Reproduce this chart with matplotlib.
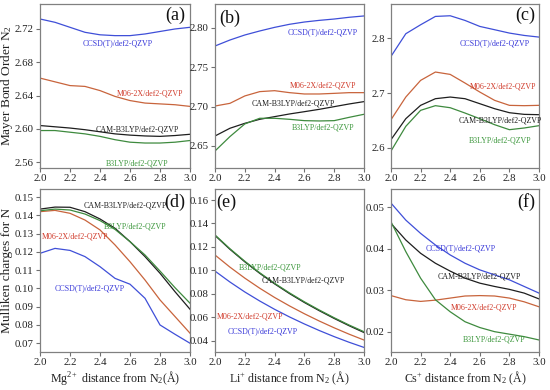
import matplotlib
matplotlib.use("Agg")
import matplotlib.pyplot as plt
import numpy as np

plt.rcParams['font.family'] = ['Liberation Serif', 'DejaVu Serif']
plt.rcParams['mathtext.fontset'] = 'custom'
plt.rcParams['mathtext.rm'] = 'Liberation Serif'
plt.rcParams['mathtext.it'] = 'Liberation Serif:italic'

# ---------------- data ----------------
dist = [2.0, 2.1, 2.2, 2.3, 2.4, 2.5, 2.6, 2.7, 2.8, 2.9, 3.0]

# (a) Mg2+ bond order
a_ccsd = [2.732, 2.728, 2.722, 2.716, 2.713, 2.712, 2.712, 2.714, 2.717, 2.720, 2.722]
a_m06 = [2.661, 2.6565, 2.652, 2.651, 2.646, 2.639, 2.634, 2.631, 2.630, 2.629, 2.627]
a_cam = [2.604, 2.6025, 2.601, 2.599, 2.5965, 2.594, 2.5925, 2.5915, 2.591, 2.592, 2.5935]
a_b3 = [2.598, 2.598, 2.596, 2.594, 2.591, 2.587, 2.584, 2.583, 2.583, 2.584, 2.586]

# (b) Li+ bond order
b_ccsd = [2.7771, 2.7847, 2.7911, 2.7962, 2.8008, 2.8047, 2.8076, 2.8097, 2.8114, 2.8136, 2.8153]
b_m06 = [2.7008, 2.7042, 2.7136, 2.7191, 2.7203, 2.7178, 2.7161, 2.7161, 2.7169, 2.7178, 2.7178]
b_cam = [2.6627, 2.6725, 2.6788, 2.6839, 2.6873, 2.6907, 2.6936, 2.6966, 2.7000, 2.7034, 2.7064]
b_b3 = [2.6436, 2.6619, 2.6780, 2.6852, 2.6852, 2.6839, 2.6822, 2.6818, 2.6822, 2.6864, 2.6903]

# (c) Cs+ bond order
c_ccsd = [2.7667, 2.8079, 2.8242, 2.8394, 2.8406, 2.8321, 2.8212, 2.8152, 2.8091, 2.8048, 2.8018]
c_m06 = [2.6515, 2.6927, 2.7230, 2.7382, 2.7339, 2.7182, 2.7018, 2.6867, 2.6776, 2.6770, 2.6776]
c_cam = [2.6152, 2.6533, 2.6776, 2.6897, 2.6927, 2.6897, 2.6806, 2.6715, 2.6642, 2.6612, 2.6606]
c_b3 = [2.5945, 2.6394, 2.6685, 2.6770, 2.6733, 2.6636, 2.6533, 2.6424, 2.6333, 2.6364, 2.6406]

# (d) Mg2+ Mulliken charges
d_ccsd = [0.1192, 0.1219, 0.1208, 0.1174, 0.1119, 0.1055, 0.1023, 0.0946, 0.0800, 0.0749, 0.0700]
d_m06 = [0.1420, 0.1427, 0.1411, 0.1374, 0.1320, 0.1238, 0.1146, 0.1046, 0.0937, 0.0846, 0.0755]
d_cam = [0.1434, 0.1445, 0.1444, 0.1420, 0.1380, 0.1329, 0.1256, 0.1174, 0.1083, 0.0982, 0.0886]
d_b3 = [0.1425, 0.1434, 0.1429, 0.1407, 0.1371, 0.1323, 0.1256, 0.1183, 0.1095, 0.1004, 0.0919]

# (e) Li+ Mulliken charges
e_ccsd = [0.0994, 0.0901, 0.0816, 0.0739, 0.0668, 0.0603, 0.0543, 0.0487, 0.0435, 0.0387, 0.0343]
e_m06 = [0.1131, 0.1028, 0.0934, 0.0848, 0.0769, 0.0697, 0.0630, 0.0568, 0.0510, 0.0456, 0.0406]
e_cam = [0.1298, 0.1180, 0.1073, 0.0975, 0.0885, 0.0802, 0.0726, 0.0656, 0.0590, 0.0528, 0.0470]
e_b3 = [0.1302, 0.1185, 0.1078, 0.0980, 0.0890, 0.0808, 0.0732, 0.0662, 0.0596, 0.0534, 0.0477]

# (f) Cs+ Mulliken charges
f_ccsd = [0.0510, 0.0469, 0.0437, 0.0409, 0.0385, 0.0365, 0.0349, 0.0337, 0.0325, 0.0309, 0.0293]
f_m06 = [0.0287, 0.0277, 0.0273, 0.0276, 0.0281, 0.0286, 0.0287, 0.0286, 0.0281, 0.0272, 0.0260]
f_cam = [0.0461, 0.0421, 0.0389, 0.0365, 0.0346, 0.0329, 0.0317, 0.0309, 0.0302, 0.0293, 0.0279]
f_b3 = [0.0465, 0.0393, 0.0329, 0.0277, 0.0248, 0.0224, 0.0210, 0.0200, 0.0194, 0.0188, 0.0180]

methods = ["CCSD(T)/def2-QZVP", "M06-2X/def2-QZVP", "CAM-B3LYP/def2-QZVP", "B3LYP/def2-QZVP"]
panel_letters = ["(a)", "(b)", "(c)", "(d)", "(e)", "(f)"]
xlabels = ["Mg$^{2+}$ distance from N$_2$(Å)", "Li$^{+}$ distance from N$_2$ (Å)",
           "Cs$^{+}$ distance from N$_2$ (Å)"]

# ---------------- styles ----------------
line_colors = ["#3f4fd8", "#c8643c", "#1e1e1e", "#3e8a3e"]
text_colors = ["#3535d8", "#d03a2a", "#1e1e1e", "#3a963a"]

W, H = 550, 390
fig = plt.figure(figsize=(5.5, 3.9), dpi=100)

cols_px = [(40, 190), (215, 364), (391, 539)]
rows_px = [(4, 168), (189, 352)]

def px_axes(c, r):
    x0, x1 = cols_px[c]
    y0, y1 = rows_px[r]
    return fig.add_axes([x0 / W, 1 - y1 / H, (x1 - x0) / W, (y1 - y0) / H])

panels = [
    (a_ccsd, a_m06, a_cam, a_b3),
    (b_ccsd, b_m06, b_cam, b_b3),
    (c_ccsd, c_m06, c_cam, c_b3),
    (d_ccsd, d_m06, d_cam, d_b3),
    (e_ccsd, e_m06, e_cam, e_b3),
    (f_ccsd, f_m06, f_cam, f_b3),
]
ylims = [(2.553, 2.750), (2.622, 2.8305), (2.5636, 2.862),
         (0.0652, 0.1544), (0.0304, 0.1694), (0.0151, 0.0544)]
yticks = [np.arange(2.56, 2.7201, 0.04), np.arange(2.65, 2.8001, 0.05), [2.6, 2.7, 2.8],
          np.arange(0.07, 0.1501, 0.01), np.arange(0.04, 0.1601, 0.02), [0.02, 0.03, 0.04, 0.05]]
yfmt = ["%.2f", "%.2f", "%.1f", "%.2f", "%.2f", "%.2f"]

# label positions in axes fraction (method order: CCSD, M06, CAM, B3LYP)
label_pos = [
    [(0.52, 0.762), (0.733, 0.457), (0.647, 0.232), (0.647, 0.03)],
    [(0.725, 0.829), (0.725, 0.506), (0.523, 0.396), (0.725, 0.244)],
    [(0.703, 0.762), (0.757, 0.50), (0.736, 0.287), (0.736, 0.165)],
    [(0.333, 0.393), (0.233, 0.706), (0.567, 0.896), (0.633, 0.767)],
    [(0.322, 0.129), (0.235, 0.215), (0.591, 0.436), (0.369, 0.521)],
    [(0.473, 0.638), (0.628, 0.27), (0.595, 0.466), (0.696, 0.074)],
]
letter_pos = [(0.90, 0.93), (0.10, 0.915), (0.905, 0.933), (0.90, 0.92), (0.074, 0.92), (0.912, 0.92)]

for i, series in enumerate(panels):
    r, c = divmod(i, 3)
    ax = px_axes(c, r)
    for s, col in zip(series, line_colors):
        ax.plot(dist, s, color=col, lw=0.9)
    ax.set_xlim(2.0, 3.0)
    ax.set_ylim(*ylims[i])
    ax.set_xticks(np.arange(2.0, 3.01, 0.2))
    ax.set_xticklabels(["%.1f" % v for v in np.arange(2.0, 3.01, 0.2)])
    ax.set_yticks(yticks[i])
    ax.set_yticklabels([yfmt[i] % v for v in yticks[i]])
    ax.tick_params(direction='out', length=3, width=0.8, color='#707070',
                   labelsize=7.8, pad=1.5, labelcolor='#222222')
    for sp in ax.spines.values():
        sp.set_color('#808080')
        sp.set_linewidth(0.9)
    for name, (tx, ty), tc in zip(methods, label_pos[i], text_colors):
        ax.text(tx, ty, name, transform=ax.transAxes, ha='center', va='center',
                fontsize=5.7, color=tc)
    lx, ly = letter_pos[i]
    ax.text(lx, ly, panel_letters[i], transform=ax.transAxes, ha='center', va='center',
            fontsize=13, color='#111111')
    if r == 1:
        ax.set_xlabel(xlabels[c], fontsize=8.6, labelpad=1.5, color='#222222')

fig.text(7 / W, 1 - 86 / H, "Mayer Bond Order N$_2$", rotation=90, ha='center',
         va='center', fontsize=9.6, color='#222222')
fig.text(7 / W, 1 - 270 / H, "Mulliken charges for N", rotation=90, ha='center',
         va='center', fontsize=9.6, color='#222222')

fig.savefig("out.png", dpi=100)
